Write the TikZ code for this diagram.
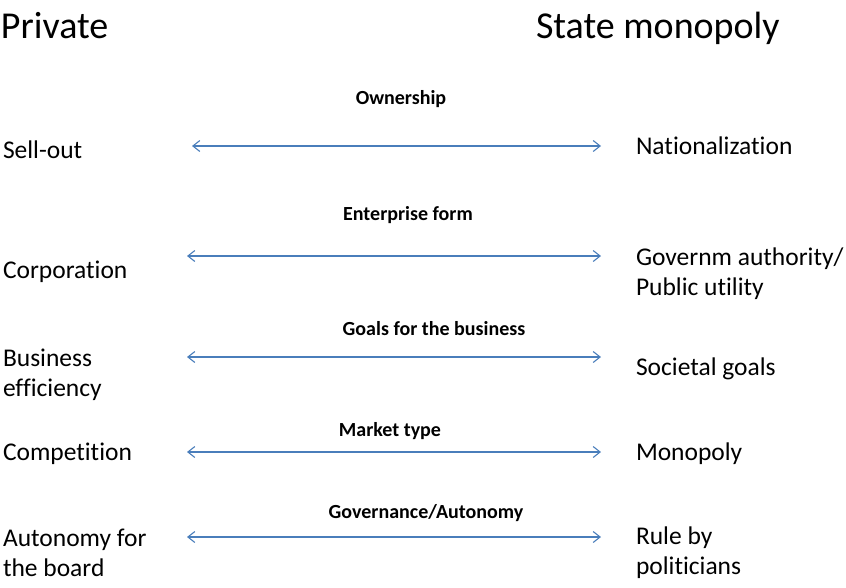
\documentclass[tikz,border=0pt]{standalone}
\usepackage{fontspec}
\setmainfont{Carlito}[Ligatures=NoCommon]
\usetikzlibrary{arrows.meta}
\definecolor{arrowblue}{HTML}{4A7EBB}
\begin{document}
\begin{tikzpicture}[x=1pt,y=-1pt,every node/.style={inner sep=0pt,outer sep=0pt,align=left},
title/.style={anchor=mid west,font=\fontsize{38}{46}\selectfont},
side/.style={anchor=mid west,font=\fontsize{25.5}{30}\selectfont},
sidetwo/.style={anchor=west,font=\fontsize{25.5}{30}\selectfont},
topic/.style={anchor=mid,font=\bfseries\fontsize{20}{24}\selectfont},
spanarrow/.style={draw=arrowblue,line width=1.1pt,{Straight Barb[length=7pt,width=11pt]}-{Straight Barb[length=7pt,width=11pt]}}]
\useasboundingbox (0,0) rectangle (846,587);
\node[title] (private) at (1,36) {Private};
\node[title] (state) at (536,36) {State monopoly};
% ownership
\node[topic] (own) at (401,102) {Ownership};
\node[side] (sellout) at (3,156) {Sell-out};
\node[side] (national) at (636,152) {Nationalization};
\coordinate (own-l) at (192,146);
\coordinate (own-r) at (601,146);
\draw[spanarrow] (own-l) -- (own-r);
% enterprise form
\node[topic] (form) at (408,218) {Enterprise form};
\node[side] (corp) at (3,276) {Corporation};
\node[sidetwo] (authority) at (636,274) {Governm authority/\\Public utility};
\coordinate (form-l) at (187,256);
\coordinate (form-r) at (601,256);
\draw[spanarrow] (form-l) -- (form-r);
% goals
\node[topic] (goals) at (434,333) {Goals for the business};
\node[sidetwo] (efficiency) at (3,375) {Business\\efficiency};
\node[side] (societal) at (636,373) {Societal goals};
\coordinate (goals-l) at (187,357);
\coordinate (goals-r) at (601,357);
\draw[spanarrow] (goals-l) -- (goals-r);
% market type
\node[topic] (market) at (390,434) {Market type};
\node[side] (competition) at (3,458) {Competition};
\node[side] (monopoly) at (636,458) {Monopoly};
\coordinate (market-l) at (187,452);
\coordinate (market-r) at (601,452);
\draw[spanarrow] (market-l) -- (market-r);
% governance
\node[topic] (gov) at (426,516) {Governance/Autonomy};
\node[sidetwo] (board) at (3,553) {Autonomy for\\the board};
\node[sidetwo] (politicians) at (636,553) {Rule by\\politicians};
\coordinate (gov-l) at (187,537);
\coordinate (gov-r) at (601,537);
\draw[spanarrow] (gov-l) -- (gov-r);
\end{tikzpicture}
\end{document}
